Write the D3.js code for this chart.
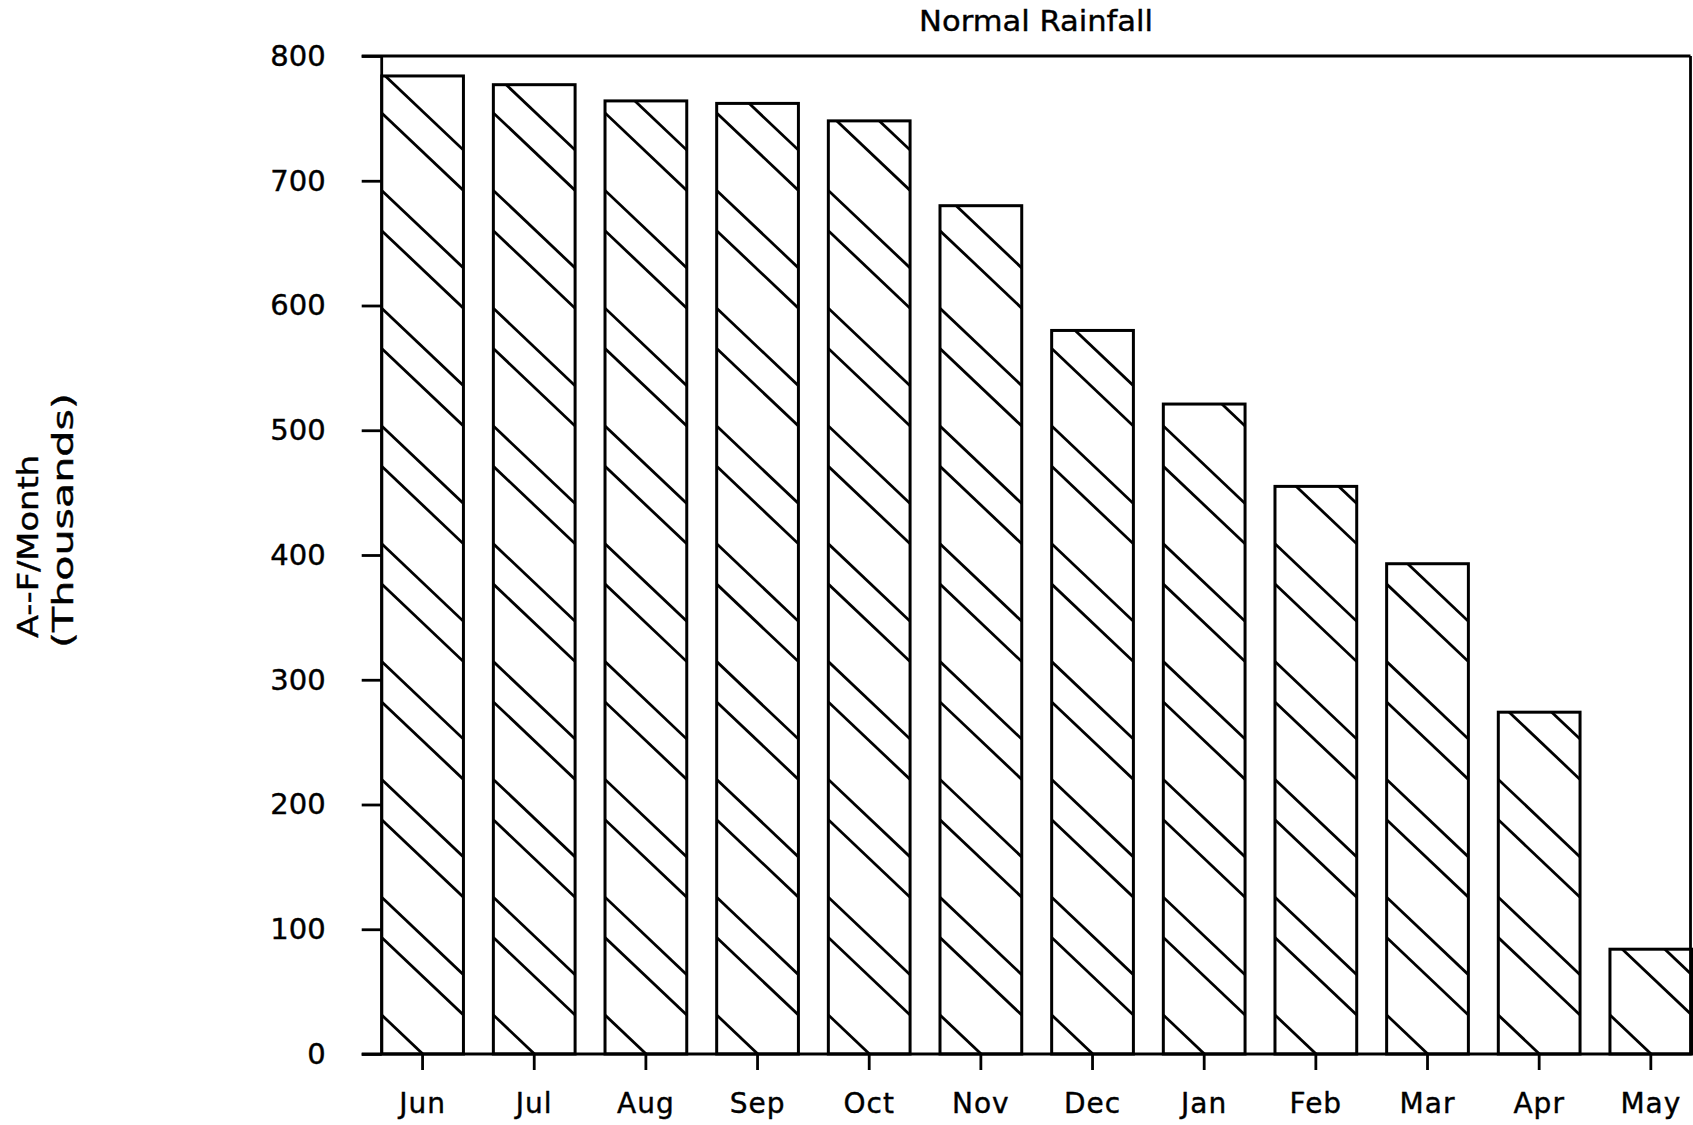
<!DOCTYPE html>
<html>
<head>
<meta charset="utf-8">
<script src="https://cdn.jsdelivr.net/npm/d3@7"></script>
<style>
  html, body { margin: 0; padding: 0; background: #fff; }
  svg { display: block; }
  text { font-family: "DejaVu Sans", sans-serif; fill: #000; stroke: #000; stroke-width: 0.4px; }
</style>
</head>
<body>
<svg id="chart" width="1693" height="1125"></svg>
<script>
// ---- data ----
const months = ["Jun","Jul","Aug","Sep","Oct","Nov","Dec","Jan","Feb","Mar","Apr","May"];
const rainfall = [784, 777, 764, 762, 748, 680, 580, 521, 455, 393, 274, 84];
const yTicks = [0, 100, 200, 300, 400, 500, 600, 700, 800];
const chartTitle = "Normal Rainfall";
const yLabelLines = ["A--F/Month", "(Thousands)"];

// ---- layout ----
const mLeft = 381.7, mTop = 56, plotRight = 1690.5, bandRight = 1691.7, mBottom = 1054;

const svg = d3.select("#chart");

const x = d3.scaleBand().domain(months).range([mLeft, bandRight])
  .paddingInner(0.268).paddingOuter(0);
const y = d3.scaleLinear().domain([0, 800]).range([mBottom, mTop]);

const data = months.map((m, i) => ({ m, v: rainfall[i] }));

// clip paths for hatch
const defs = svg.append("defs");
data.forEach((d, i) => {
  defs.append("clipPath").attr("id", "clip" + i)
    .append("rect")
    .attr("x", x(d.m)).attr("y", y(d.v))
    .attr("width", x.bandwidth()).attr("height", y(0) - y(d.v));
});

// bar backgrounds
svg.append("g").selectAll("rect").data(data).join("rect")
  .attr("x", d => x(d.m)).attr("y", d => y(d.v))
  .attr("width", x.bandwidth()).attr("height", d => y(0) - y(d.v))
  .attr("fill", "#fff");

// hatching: pairs of diagonal lines, anchored to the baseline of each bar
const period = 117.8, offA = 39, offB = 116.5, drop = 77.5;
data.forEach((d, i) => {
  const g = svg.append("g").attr("clip-path", `url(#clip${i})`);
  const x0 = x(d.m), bw = x.bandwidth();
  const starts = [];
  for (let k = -1; k < 9; k++) {
    starts.push(y(0) - offA - k * period);
    starts.push(y(0) - offB - k * period);
  }
  g.selectAll("line").data(starts).join("line")
    .attr("x1", x0).attr("y1", s => s)
    .attr("x2", x0 + bw).attr("y2", s => s + drop)
    .attr("stroke", "#000").attr("stroke-width", 2.8);
});

// bar outlines
svg.append("g").selectAll("rect").data(data).join("rect")
  .attr("x", d => x(d.m)).attr("y", d => y(d.v))
  .attr("width", x.bandwidth()).attr("height", d => y(0) - y(d.v))
  .attr("fill", "none").attr("stroke", "#000").attr("stroke-width", 3);

// frame
const frame = svg.append("g").attr("stroke", "#000").attr("stroke-width", 2.8).attr("fill", "none");
frame.append("line").attr("x1", mLeft - 20).attr("x2", plotRight).attr("y1", mTop).attr("y2", mTop);
frame.append("line").attr("x1", plotRight).attr("x2", plotRight).attr("y1", mTop).attr("y2", mBottom);
frame.append("line").attr("x1", mLeft).attr("x2", mLeft).attr("y1", mTop).attr("y2", mBottom);
frame.append("line").attr("x1", mLeft - 20).attr("x2", bandRight).attr("y1", mBottom).attr("y2", mBottom);

// y axis
const yAxis = svg.append("g").attr("transform", `translate(${mLeft},0)`)
  .call(d3.axisLeft(y).tickValues(yTicks).tickSize(20).tickPadding(36).tickFormat(d3.format("d")));
yAxis.select(".domain").remove();
yAxis.selectAll(".tick line").attr("stroke", "#000").attr("stroke-width", 2.8);
yAxis.selectAll(".tick text").style("font-size", "29px").attr("font-family", "DejaVu Sans");

// x axis
const xAxis = svg.append("g").attr("transform", `translate(0,${mBottom})`)
  .call(d3.axisBottom(x).tickSize(16).tickPadding(23));
xAxis.select(".domain").remove();
xAxis.selectAll(".tick line").attr("stroke", "#000").attr("stroke-width", 2.8);
xAxis.selectAll(".tick text").style("font-size", "28px").attr("font-family", "DejaVu Sans")
  .style("letter-spacing", "1px");

// title
svg.append("text")
  .attr("x", (mLeft + plotRight) / 2).attr("y", 31)
  .attr("text-anchor", "middle")
  .style("font-size", "28px")
  .attr("textLength", 234).attr("lengthAdjust", "spacingAndGlyphs")
  .text(chartTitle);

// y label
svg.append("text")
  .attr("transform", "translate(38,638) rotate(-90)")
  .style("font-size", "28px")
  .attr("textLength", 183).attr("lengthAdjust", "spacingAndGlyphs")
  .text(yLabelLines[0]);
svg.append("text")
  .attr("transform", "translate(73,648) rotate(-90)")
  .style("font-size", "28px")
  .attr("textLength", 255).attr("lengthAdjust", "spacingAndGlyphs")
  .text(yLabelLines[1]);
</script>
</body>
</html>
